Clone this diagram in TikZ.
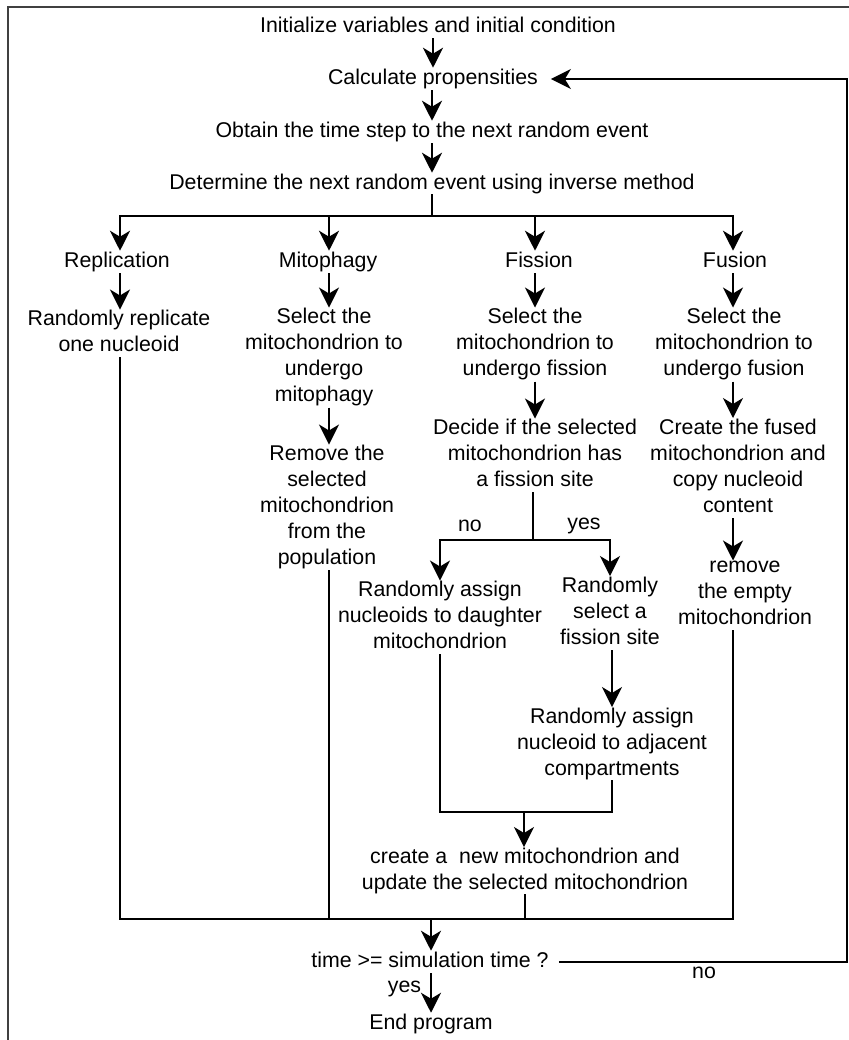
\documentclass[tikz,border=0pt]{standalone}
\usepackage{fontspec}
\setmainfont{Liberation Sans}
\usetikzlibrary{positioning,arrows.meta}
\newcommand\tstrut{\rule[-3.5pt]{0pt}{15.5pt}}
\tikzset{
  stp/.style={align=center, inner sep=0.5pt, execute at begin node=\tstrut, execute at end node=\tstrut},
  lbl/.style={inner sep=0.5pt},
  ln/.style={line width=1.3pt, line cap=rect},
  arr/.style={line width=1.3pt, -{Stealth[length=15pt,width=15pt,inset=4.5pt]}}}

\begin{document}
\begin{tikzpicture}[x=0.75pt, y=-0.75pt, font=\fontsize{16}{19.5}\selectfont]
\useasboundingbox (0,0) rectangle (849,1040);
\draw[line width=1.3pt, black!75] (8,7) rectangle (862,1052);
\node[stp] (init) at (438,27) {Initialize variables and initial condition};
\node[stp] (prop) at (433,79) {Calculate propensities};
\node[stp] (dt) at (432,132) {Obtain the time step to the next random event};
\node[stp] (evt) at (432,184) {Determine the next random event using inverse method};
\coordinate (top) at (432,216);
\foreach \n/\x in {b1/120, b2/329, b3/535, b4/733}
  \coordinate (\n) at (\x,216);
\node[stp] (rep) at (117,262) {Replication};
\node[stp] (mph) at (328,262) {Mitophagy};
\node[stp] (fis) at (539,262) {Fission};
\node[stp] (fus) at (735,262) {Fusion};
\node[stp] (rep1) at (119,333.5) {Randomly replicate\\one nucleoid};
\node[stp] (mph1) at (324,357.5) {Select the\\mitochondrion to\\undergo\\mitophagy};
\node[stp] (fis1) at (535,344.5) {Select the\\mitochondrion to\\undergo fission};
\node[stp] (fus1) at (734,344.5) {Select the\\mitochondrion to\\undergo fusion};
\node[stp] (mph2) at (327,507.5) {Remove the\\selected\\mitochondrion\\from the\\population};
\node[stp] (fis2) at (535,455.5) {Decide if the selected\\mitochondrion has\\a fission site};
\node[stp] (fus2) at (738,468) {Create the fused\\mitochondrion and\\copy nucleoid\\content};
\node[stp] (fus3) at (745,595.5) {remove\\the empty\\mitochondrion};
\coordinate (fs) at (533,540);
\coordinate (fl) at (440,540);
\coordinate (fr) at (610,540);
\node[lbl] (lno) at (470,526) {no};
\node[lbl] (lyes) at (584,526) {yes};
\node[stp] (fno) at (440,617.5) {Randomly assign\\nucleoids to daughter\\mitochondrion};
\node[stp] (fyes) at (610,613) {Randomly\\select a\\fission site};
\node[stp] (fadj) at (612,744) {Randomly assign\\nucleoid to adjacent\\compartments};
\coordinate (jm) at (524,812);
\node[stp] (newm) at (525,871) {create a\ \ new mitochondrion and\\update the selected mitochondrion};
\coordinate (jn) at (431,919);
\node[stp] (chk) at (430,962) {time >= simulation time ?};
\coordinate (rt) at (847,958);
\node[lbl] (lno2) at (704,973) {no};
\node[lbl] (lyes2) at (404.5,989) {yes};
\node[stp] (done) at (431,1024) {End program};

\draw[arr] (prop |- init.south) -- (prop);
\draw[arr] (dt |- prop.south) -- (dt);
\draw[arr] (evt |- dt.south) -- (evt);
\draw[ln] (evt) -- (top);
\draw[ln] (b1) -- (b4);
\draw[arr] (b1) -- (b1 |- rep.north);
\draw[arr] (b2) -- (b2 |- mph.north);
\draw[arr] (b3) -- (b3 |- fis.north);
\draw[arr] (b4) -- (b4 |- fus.north);
\draw[arr] (b1 |- rep.south) -- (b1 |- rep1.north);
\draw[arr] (b2 |- mph.south) -- (b2 |- mph1.north);
\draw[arr] (b3 |- fis.south) -- (b3 |- fis1.north);
\draw[arr] (b4 |- fus.south) -- (b4 |- fus1.north);
\draw[arr] (b2 |- mph1.south) -- (b2 |- mph2.north);
\draw[arr] (b3 |- fis1.south) -- (b3 |- fis2.north);
\draw[arr] (b4 |- fus1.south) -- (b4 |- fus2.north);
\draw[arr] (b4 |- fus2.south) -- (b4 |- fus3.north);
\draw[ln] (fs |- fis2.south) -- (fs);
\draw[ln] (fl) -- (fr);
\draw[arr] (fl) -- (fno);
\draw[arr] (fr) -- (fyes);
\draw[arr] (fadj |- fyes.south) -- (fadj);
\draw[ln] (fno.south) -- (fno.south |- jm) -- (fadj.south |- jm) -- (fadj.south);
\draw[arr] (jm) -- (jm |- newm.north);
\draw[ln] (b1 |- rep1.south) -- (b1 |- jn) -- (b4 |- jn) -- (b4 |- fus3.south);
\draw[ln] (b2 |- mph2.south) -- (b2 |- jn);
\draw[ln] (newm.south) -- (newm.south |- jn);
\draw[arr] (jn) -- (jn |- chk.north);
\draw[arr] (jn |- chk.south) -- (jn |- done.north);
\draw[arr, shorten <=7pt, shorten >=9pt] (chk.east) -- (chk.east -| rt) |- (prop.east);
\end{tikzpicture}
\end{document}
